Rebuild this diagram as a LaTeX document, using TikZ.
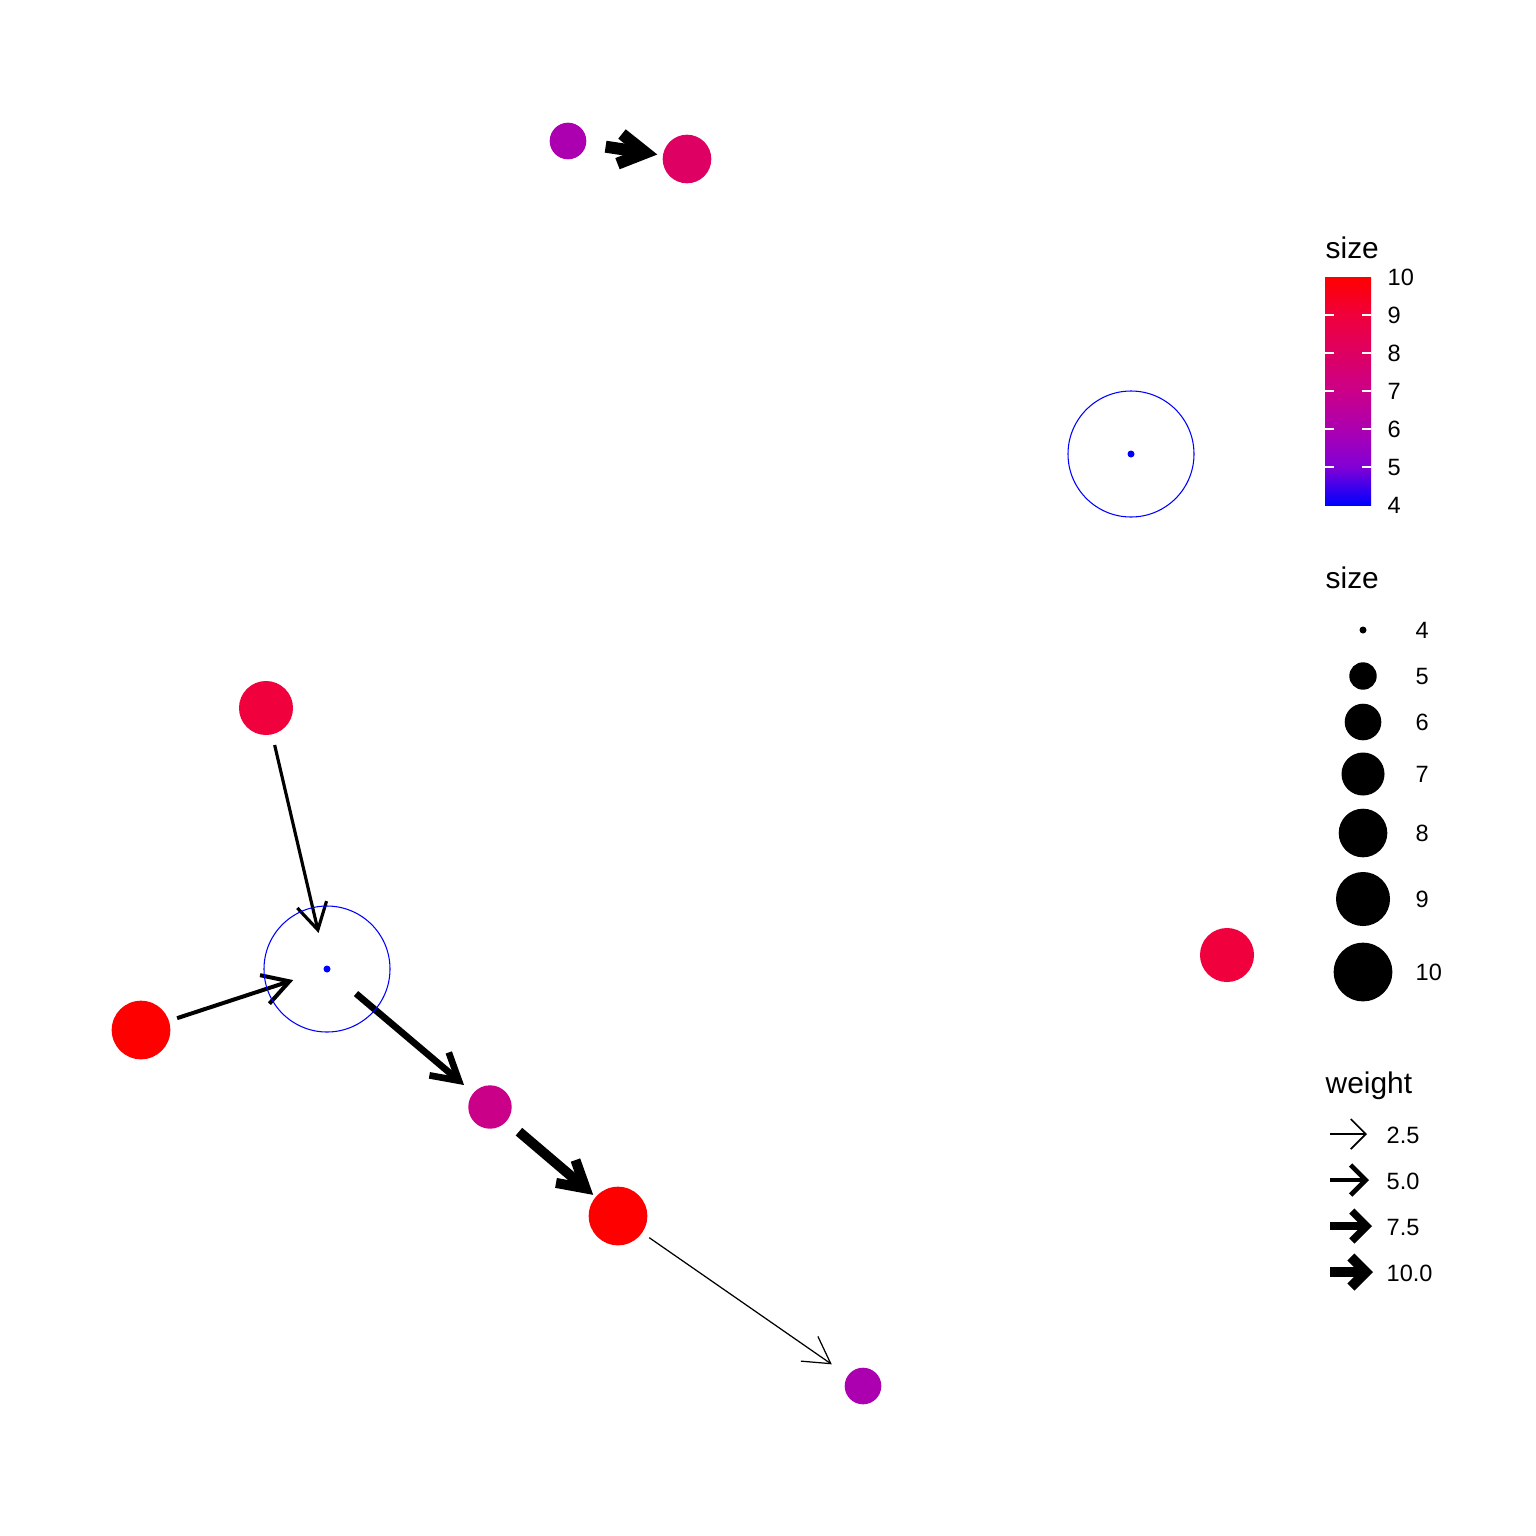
\documentclass[tikz,border=0pt]{standalone}
\usepackage{fontspec}
\setmainfont{Liberation Sans}
\usetikzlibrary{arrows.meta}
\definecolor{c4}{RGB}{0,0,255}
\definecolor{c5}{RGB}{130,0,214}
\definecolor{c6}{RGB}{172,0,176}
\definecolor{c7}{RGB}{203,0,137}
\definecolor{c8}{RGB}{222,0,98}
\definecolor{c9}{RGB}{240,0,60}
\definecolor{c10}{RGB}{255,0,0}
\pgfdeclareverticalshading{cbarshade}{100bp}{color(0bp)=(c4); color(25bp)=(c4); color(33.333bp)=(c5); color(41.667bp)=(c6); color(50bp)=(c7); color(58.333bp)=(c8); color(66.667bp)=(c9); color(75bp)=(c10); color(100bp)=(c10)}
\begin{document}
\begin{tikzpicture}[x=0.01cm,y=-0.01cm,
  vtx/.style={circle, inner sep=0pt, outer sep=0pt, draw=none, minimum size=#1},
  lnk/.style={line width=#1, -{Straight Barb[length=0.26cm, width=0.30cm, sharp]}, shorten <=0.38cm},
  keyarrow/.style={line width=#1, -{Straight Barb[length=0.15cm, width=0.30cm, sharp]}},
  ttl/.style={anchor=base west, inner sep=0pt, font=\fontsize{8.5}{10}\selectfont},
  lbl/.style={anchor=base west, inner sep=0pt, font=\fontsize{6.7}{8}\selectfont},
  loopc/.style={draw=blue, line width=0.3pt},
  tick/.style={draw=white, line width=0.3pt}
]
\fill[white] (0,0) rectangle (1536,1536);
\useasboundingbox (0,0) rectangle (1536,1536);

% vertices
\node[vtx=0.366cm, fill=c6] (a) at (568,141) {};
\node[vtx=0.486cm, fill=c8] (b) at (687,159) {};
\node[vtx=0.07cm, fill=c4] (c) at (1131,454) {};
\node[vtx=0.54cm, fill=c9] (d) at (266,708) {};
\node[vtx=0.07cm, fill=c4] (e) at (327,969) {};
\node[vtx=0.586cm, fill=c10] (f) at (141,1030) {};
\node[vtx=0.434cm, fill=c7] (g) at (490,1107) {};
\node[vtx=0.586cm, fill=c10] (h) at (618,1216) {};
\node[vtx=0.366cm, fill=c6] (i) at (863,1386) {};
\node[vtx=0.54cm, fill=c9] (j) at (1227,955) {};

% edges
\draw[lnk=3.41pt, shorten >=0.30cm] (a.center) -- (b.center);
\draw[lnk=0.9pt, shorten >=0.37cm] (d.center) -- (e.center);
\draw[lnk=1.14pt, shorten >=0.355cm] (f.center) -- (e.center);
\draw[lnk=1.9pt, shorten >=0.34cm] (e.center) -- (g.center);
\draw[lnk=2.85pt, shorten >=0.326cm] (g.center) -- (h.center);
\draw[lnk=0.35pt, shorten >=0.38cm] (h.center) -- (i.center);

% loops
\draw[loopc] (c.center) circle[radius=63];
\draw[loopc] (e.center) circle[radius=63];

% colour legend
\node[ttl] (t1) at (1325,258) {size};
\shade[shading=cbarshade] (1325,277) rectangle (1371,505);
\foreach \yy in {315,353,391,429,467} {
  \draw[tick] (1325,\yy) -- (1334,\yy);
  \draw[tick] (1362,\yy) -- (1371,\yy);
}
\node[lbl] (cl10) at (1387,285.6) {10};
\node[lbl] (cl9) at (1387,323.6) {9};
\node[lbl] (cl8) at (1387,361.6) {8};
\node[lbl] (cl7) at (1387,399.6) {7};
\node[lbl] (cl6) at (1387,437.6) {6};
\node[lbl] (cl5) at (1387,475.6) {5};
\node[lbl] (cl4) at (1387,513.6) {4};

% size legend
\node[ttl] (t2) at (1325,588) {size};
\node[vtx=0.07cm, fill=black] (s4) at (1363,630) {};
\node[vtx=0.274cm, fill=black] (s5) at (1363,676) {};
\node[vtx=0.366cm, fill=black] (s6) at (1363,722) {};
\node[vtx=0.43cm, fill=black] (s7) at (1363,774) {};
\node[vtx=0.486cm, fill=black] (s8) at (1363,833) {};
\node[vtx=0.54cm, fill=black] (s9) at (1363,899) {};
\node[vtx=0.586cm, fill=black] (s10) at (1363,972) {};
\node[lbl] (sl4) at (1415,638.6) {4};
\node[lbl] (sl5) at (1415,684.6) {5};
\node[lbl] (sl6) at (1415,730.6) {6};
\node[lbl] (sl7) at (1415,782.6) {7};
\node[lbl] (sl8) at (1415,841.6) {8};
\node[lbl] (sl9) at (1415,907.6) {9};
\node[lbl] (sl10) at (1415,980.6) {10};

% weight legend
\node[ttl] (t3) at (1325,1093) {weight};
\coordinate (w1a) at (1330,1134); \coordinate (w1b) at (1367,1134);
\coordinate (w2a) at (1330,1180); \coordinate (w2b) at (1369,1180);
\coordinate (w3a) at (1330,1226); \coordinate (w3b) at (1372,1226);
\coordinate (w4a) at (1330,1272); \coordinate (w4b) at (1373,1272);
\draw[keyarrow=0.5pt] (w1a) -- (w1b);
\draw[keyarrow=1.33pt] (w2a) -- (w2b);
\draw[keyarrow=2.1pt] (w3a) -- (w3b);
\draw[keyarrow=2.85pt] (w4a) -- (w4b);
\node[lbl] (wl1) at (1386,1143.6) {2.5};
\node[lbl] (wl2) at (1386,1189.6) {5.0};
\node[lbl] (wl3) at (1386,1235.6) {7.5};
\node[lbl] (wl4) at (1386,1281.6) {10.0};
\end{tikzpicture}
\end{document}
